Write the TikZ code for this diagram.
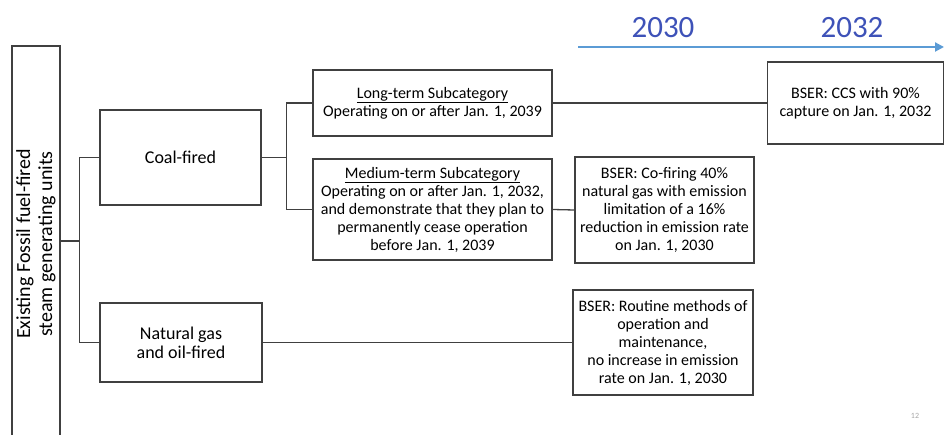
\documentclass[tikz,border=0pt]{standalone}
\usepackage{fontspec}
\setmainfont{Carlito}
\usetikzlibrary{arrows.meta,positioning}

\definecolor{lineblue}{RGB}{91,155,213}
\definecolor{yearblue}{RGB}{62,82,184}

\begin{document}
\begin{tikzpicture} [x=1pt,y=-1pt,line width=1.3pt,
  box/.style={draw=black!75,align=center,inner sep=2pt,font=\fontsize{16}{18}\selectfont},
  bigbox/.style={box,font=\fontsize{18}{19}\selectfont},
  year/.style={text=yearblue,font=\fontsize{31}{31}\selectfont},
  link/.style={draw=black!75}]

  \useasboundingbox (0,0) rectangle (944,435);

  % timeline
  \coordinate (t0) at (578,47);
  \coordinate (t1) at (944,47);
  \draw[-{Triangle[length=9pt,width=9pt]},draw=lineblue,fill=lineblue,line width=2pt] (t0) -- (t1);
  \node[year] (y2030) at (663,28) {2030};
  \node[year] (y2032) at (852,28) {2032};

  % boxes
  \node[box,rotate=90,minimum width=396pt,minimum height=48pt,font=\fontsize{20}{22}\selectfont] (units) at (36,244) {Existing Fossil fuel-fired\\steam generating units};
  \node[bigbox,minimum width=161pt,minimum height=95pt] (coal) at (180.5,157.5) {Coal-fired};
  \node[bigbox,minimum width=162pt,minimum height=79pt] (gas) at (181,342.5) {Natural gas\\and oil-fired};
  \node[box,minimum width=239pt,minimum height=66pt] (long) at (432.5,103) {\underline{Long-term Subcategory}\\Operating on or after Jan. 1, 2039};
  \node[box,minimum width=239pt,minimum height=101pt] (medium) at (432.5,209.5) {\underline{Medium-term Subcategory}\\Operating on or after Jan. 1, 2032,\\and demonstrate that they plan to\\permanently cease operation\\before Jan. 1, 2039};
  \node[box,minimum width=179pt,minimum height=106pt] (cofire) at (664.5,210) {BSER: Co-firing 40\%\\natural gas with emission\\limitation of a 16\%\\reduction in emission rate\\on Jan. 1, 2030};
  \node[box,minimum width=180pt,minimum height=105pt] (routine) at (663,342.5) {BSER: Routine methods of\\operation and\\maintenance,\\no increase in emission\\rate on Jan. 1, 2030};
  \node[box,minimum width=176pt,minimum height=82pt] (ccs) at (855.5,103) {BSER: CCS with 90\%\\capture on Jan. 1, 2032};

  \node[text=black!35,font=\fontsize{8}{8}\selectfont] (page) at (915,416) {12};

  % connectors
  \coordinate (u0) at (0,241);
  \draw[link] (coal.west) -- ++(-20,0) coordinate (j1) |- (gas.west);
  \draw[link] (units.south |- u0) -- (u0 -| j1);
  \draw[link] (long.west) -- ++(-26,0) coordinate (j2) |- (medium.west);
  \draw[link] (coal.east) -- (coal.east -| j2);
  \draw[link] (long.east) -- (ccs.west);
  \draw[link] (medium.east) -- (cofire.west);
  \draw[link] (gas.east) -- (routine.west);

\end{tikzpicture}
\end{document}
